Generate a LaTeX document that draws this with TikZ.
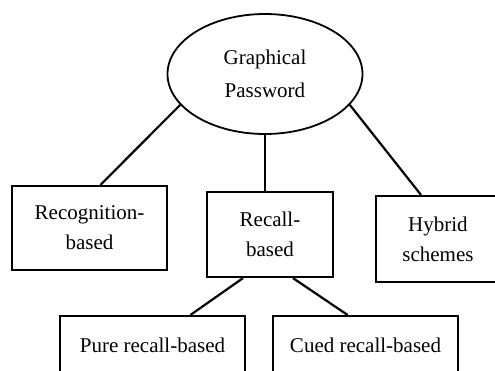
\documentclass[tikz,border=0pt]{standalone}
\usepackage{fontspec}
\setmainfont{Liberation Serif}
\usepackage{tikz}
\usetikzlibrary{shapes.geometric,calc}
\tikzset{
  box/.style={draw, line width=1.1pt, align=center, inner sep=0pt,
    font=\fontsize{10.5}{15}\selectfont},
  link/.style={line width=1.1pt}
}

\begin{document}
\begin{tikzpicture}[x=0.5pt,y=-0.5pt]
				\useasboundingbox (0,0) rectangle (495,371);
				\node[box, ellipse, line width=0.9pt, minimum width=97.5pt, minimum height=60pt,
				  font=\fontsize{10.5}{16.5}\selectfont] (gp) at (265,74) {Graphical\\Password};
				\node[box, minimum width=77.5pt, minimum height=42pt] (recog) at (89.5,228) {Recognition-\\based};
				\node[box, minimum width=63pt, minimum height=42.5pt] (recall) at (270,234.5) {Recall-\\based};
				\node[box, minimum width=62pt, minimum height=43pt] (hybrid) at (438,239) {Hybrid\\schemes};
				\node[box, minimum width=92.5pt, minimum height=29pt] (pure) at (152.5,345) {Pure recall-based};
				\node[box, minimum width=92.5pt, minimum height=29pt] (cued) at (365.5,345) {Cued recall-based};
				% links
				\draw[link] (gp.200) -- ([xshift=5.5pt]recog.north);
				\draw[link] (gp.south) -- (gp.south |- recall.north);
				\draw[link] (gp.340) -- ([xshift=-8.5pt]hybrid.north);
				\draw[link] ([xshift=-13.5pt]recall.south) -- ([xshift=19pt]pure.north);
				\draw[link] ([xshift=11.5pt]recall.south) -- ([xshift=-9pt]cued.north);
			\end{tikzpicture}
\end{document}
